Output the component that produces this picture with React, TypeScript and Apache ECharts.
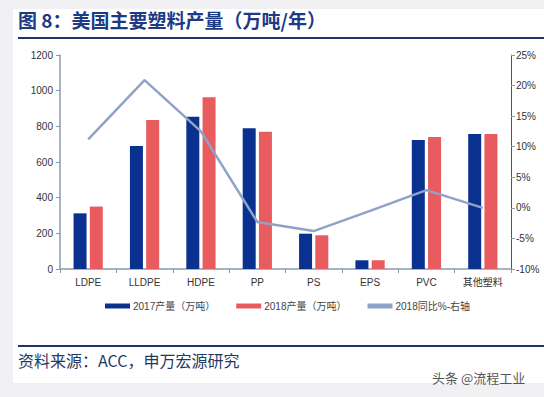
import React, { useEffect, useRef } from "react";
import * as echarts from "echarts";

const categories = ["LDPE", "LLDPE", "HDPE", "PP", "PS", "EPS", "PVC", "其他塑料"];
const output2017 = [312, 690, 854, 789, 198, 49, 723, 757];
const output2018 = [350, 835, 963, 770, 189, 49, 740, 757];
const yoy2018 = [11.2, 20.9, 12.5, -2.3, -3.8, -0.5, 2.9, 0];
const leftTicks = { min: 0, max: 1200, interval: 200 };
const rightTicks = { min: -10, max: 25, interval: 5 };

const FONT = "'Liberation Sans', Arial, 'Noto Sans CJK SC', sans-serif";

export default function App() {
  const ref = useRef<HTMLDivElement>(null);
  useEffect(() => {
    const chart = echarts.init(ref.current!, null, { renderer: "svg" });
    const axisColor = "#8b99ad";
    chart.setOption({
      animation: false,
      backgroundColor: "#f1f1f3",
      textStyle: { fontFamily: FONT },
      graphic: [
        { type: "rect", shape: { x: 13, y: 9, width: 531, height: 374 }, style: { fill: "#ffffff" }, z: -10 },
        {
          type: "text",
          left: 18,
          top: 10,
          style: {
            text: "图 8：美国主要塑料产量（万吨/年）",
            fill: "#1d3a85",
            font: "bold 19px 'Noto Sans CJK SC', sans-serif",
          },
        },
        { type: "rect", shape: { x: 18, y: 37, width: 526, height: 2 }, style: { fill: "#1f3366" } },
        { type: "rect", shape: { x: 18, y: 345, width: 526, height: 2 }, style: { fill: "#1f3366" } },
        {
          type: "text",
          left: 18,
          top: 352,
          style: {
            text: "资料来源：ACC，申万宏源研究",
            fill: "#1f3864",
            font: "16px 'Noto Sans CJK SC', sans-serif",
          },
        },
        {
          type: "text",
          left: 432,
          top: 371,
          style: {
            text: "头条 @流程工业",
            fill: "#555555",
            font: "13px 'Noto Sans CJK SC', sans-serif",
          },
        },
      ],
      grid: { left: 60, right: 33, top: 55, bottom: 128, containLabel: false },
      legend: {
        left: 100,
        top: 296,
        itemWidth: 25,
        itemHeight: 5,
        itemGap: 21,
        icon: "rect",
        textStyle: { fontSize: 10, color: "#444", fontFamily: FONT, padding: [0, 0, 0, -2] },
        data: ["2017产量（万吨）", "2018产量（万吨）", "2018同比%-右轴"],
      },
      xAxis: {
        type: "category",
        data: categories,
        axisLine: { lineStyle: { color: axisColor, width: 1.5 } },
        axisTick: { show: true, inside: false, length: 4, lineStyle: { color: axisColor } },
        axisLabel: { color: "#333", fontSize: 10, margin: 8, fontFamily: FONT },
      },
      yAxis: [
        {
          type: "value",
          min: leftTicks.min,
          max: leftTicks.max,
          interval: leftTicks.interval,
          axisLine: { show: true, lineStyle: { color: axisColor, width: 1.5 } },
          axisTick: { show: true, length: 4, lineStyle: { color: axisColor } },
          splitLine: { show: false },
          axisLabel: {
            color: "#333",
            fontSize: 10,
            margin: 7,
            fontFamily: FONT,
            formatter: (v: number) => String(v),
          },
        },
        {
          type: "value",
          min: rightTicks.min,
          max: rightTicks.max,
          interval: rightTicks.interval,
          axisLine: { show: true, lineStyle: { color: "#3e5a7a", width: 1 } },
          axisTick: { show: true, length: 4, lineStyle: { color: axisColor } },
          splitLine: { show: false },
          axisLabel: { color: "#333", fontSize: 10, margin: 5, formatter: "{value}%", fontFamily: FONT },
        },
      ],
      series: [
        {
          name: "2017产量（万吨）",
          type: "bar",
          data: output2017,
          barWidth: 13,
          barGap: "25%",
          itemStyle: { color: "#0b3190" },
        },
        {
          name: "2018产量（万吨）",
          type: "bar",
          data: output2018,
          barWidth: 13,
          itemStyle: { color: "#e85c5f" },
        },
        {
          name: "2018同比%-右轴",
          type: "line",
          yAxisIndex: 1,
          data: yoy2018,
          symbol: "none",
          lineStyle: { color: "#8fa2c8", width: 2.5 },
          itemStyle: { color: "#8fa2c8" },
          z: 3,
        },
      ],
    });
    return () => chart.dispose();
  }, []);
  return (
    <div style={{ position: "absolute", left: 0, top: 0, width: 544, height: 397 }}>
      <div ref={ref} style={{ width: 544, height: 397 }} />
    </div>
  );
}
